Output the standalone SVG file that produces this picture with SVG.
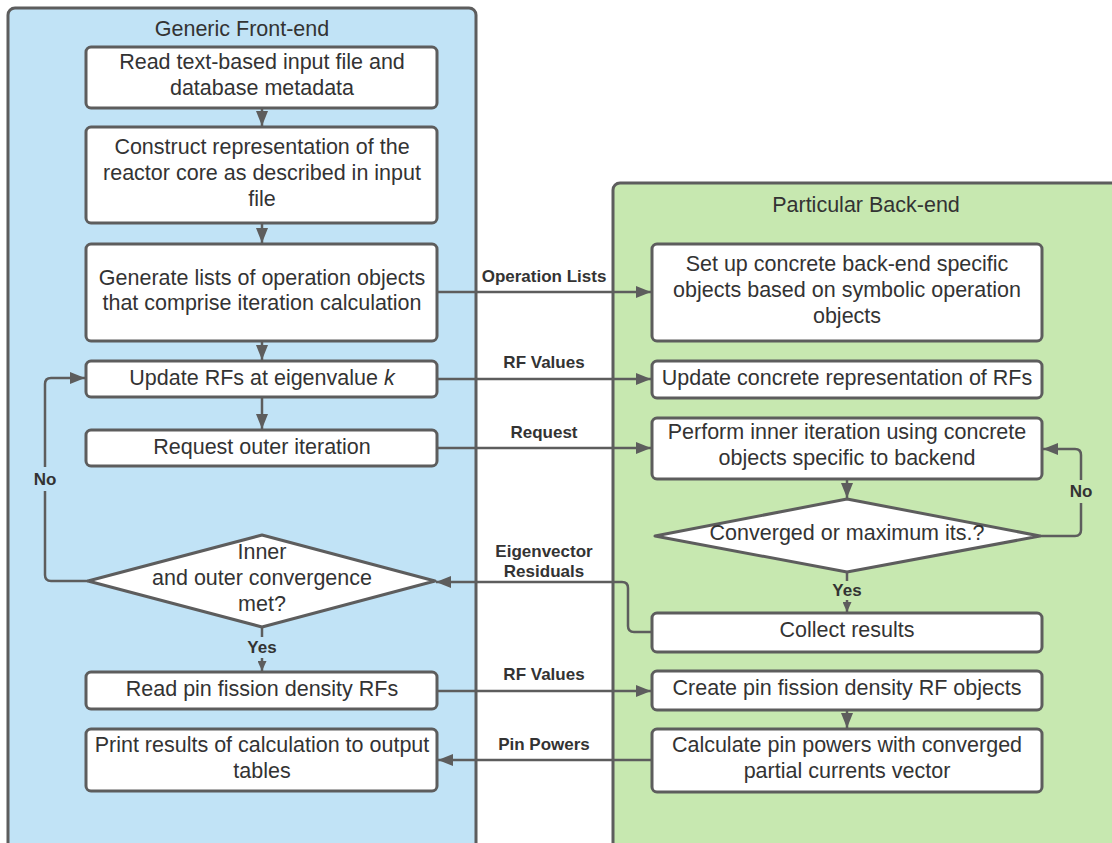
<svg xmlns="http://www.w3.org/2000/svg" width="1112" height="843" viewBox="0 0 1112 843">
  <style>
    .lane-blue { fill: #c1e3f6; stroke: #5d5d5d; stroke-width: 3; }
    .lane-green { fill: #c7e8b0; stroke: #5d5d5d; stroke-width: 3; }
    .box { fill: #ffffff; stroke: #5d5d5d; stroke-width: 3; }
    .t { font-family: "Liberation Sans", Arial, sans-serif; font-size: 21.5px; fill: #333333; text-anchor: middle; dominant-baseline: central; }
    .title { font-family: "Liberation Sans", Arial, sans-serif; font-size: 21.5px; fill: #333333; text-anchor: middle; dominant-baseline: central; }
    .lbl { font-family: "Liberation Sans", Arial, sans-serif; font-size: 17px; font-weight: bold; fill: #333333; text-anchor: middle; dominant-baseline: central; }
    .conn { fill: none; stroke: #5d5d5d; stroke-width: 2.5; }
  </style>
  <defs>
    <marker id="arrow" markerUnits="userSpaceOnUse" markerWidth="15" markerHeight="12" refX="15" refY="6" orient="auto">
      <path d="M0,0 L15,6 L0,12 z" fill="#5d5d5d"/>
    </marker>
    <marker id="arrow-sm" markerUnits="userSpaceOnUse" markerWidth="10" markerHeight="9" refX="10" refY="4.5" orient="auto">
      <path d="M0,0 L10,4.5 L0,9 z" fill="#5d5d5d"/>
    </marker>
  </defs>

  <!-- swimlanes -->
  <g id="lane-front-end">
    <rect class="lane-blue" x="8" y="8" width="468" height="850" rx="7"/>
    <text class="title" x="242" y="29">Generic Front-end</text>
  </g>
  <g id="lane-back-end">
    <rect class="lane-green" x="613" y="183" width="520" height="680" rx="7"/>
    <text class="title" x="866" y="205">Particular Back-end</text>
  </g>

  <!-- connectors -->
  <g id="connectors">
    <!-- front-end vertical flow -->
    <path class="conn" d="M262,108 V126" marker-end="url(#arrow)"/>
    <path class="conn" d="M262,223 V243" marker-end="url(#arrow)"/>
    <path class="conn" d="M262,341 V360" marker-end="url(#arrow)"/>
    <path class="conn" d="M262,397 V429" marker-end="url(#arrow)"/>
    <path class="conn" d="M262,627 V637"/>
    <path class="conn" d="M262,658 V671" marker-end="url(#arrow-sm)"/>
    <!-- No loop back to RF update -->
    <path class="conn" d="M88,581 H51 Q45,581 45,575 V491"/>
    <path class="conn" d="M45,467 V384 Q45,378 51,378 H85" marker-end="url(#arrow)"/>

    <!-- cross-lane messages -->
    <path class="conn" d="M437,292 H651" marker-end="url(#arrow)"/>
    <path class="conn" d="M437,379 H651" marker-end="url(#arrow)"/>
    <path class="conn" d="M437,448 H651" marker-end="url(#arrow)"/>
    <path class="conn" d="M652,632 H634 Q628,632 628,626 V588 Q628,582 622,582 H436" marker-end="url(#arrow)"/>
    <path class="conn" d="M437,691 H651" marker-end="url(#arrow)"/>
    <path class="conn" d="M652,760 H438" marker-end="url(#arrow)"/>

    <!-- back-end vertical flow -->
    <path class="conn" d="M847,479 V498" marker-end="url(#arrow)"/>
    <path class="conn" d="M847,572 V581"/>
    <path class="conn" d="M847,600 V612" marker-end="url(#arrow-sm)"/>
    <path class="conn" d="M847,710 V728" marker-end="url(#arrow)"/>
    <!-- No loop back to inner iteration -->
    <path class="conn" d="M1040,536 H1075 Q1081,536 1081,530 V503"/>
    <path class="conn" d="M1081,480 V455 Q1081,449 1075,449 H1043" marker-end="url(#arrow)"/>

    <!-- connector labels -->
    <text class="lbl" x="544" y="276">Operation Lists</text>
    <text class="lbl" x="544" y="362">RF Values</text>
    <text class="lbl" x="544" y="432">Request</text>
    <text class="lbl" x="544" y="551">Eigenvector</text>
    <text class="lbl" x="544" y="571">Residuals</text>
    <text class="lbl" x="544" y="674">RF Values</text>
    <text class="lbl" x="544" y="744">Pin Powers</text>
    <text class="lbl" x="45" y="479">No</text>
    <text class="lbl" x="262" y="647">Yes</text>
    <text class="lbl" x="1081" y="491">No</text>
    <text class="lbl" x="847" y="590">Yes</text>
  </g>

  <!-- front-end nodes -->
  <g id="read-input">
    <rect class="box" x="86" y="47" width="351" height="61" rx="5"/>
    <text class="t" x="262" y="62">Read text-based input file and</text>
    <text class="t" x="262" y="88">database metadata</text>
  </g>
  <g id="construct-core">
    <rect class="box" x="86" y="127" width="351" height="96" rx="5"/>
    <text class="t" x="262" y="147">Construct representation of the</text>
    <text class="t" x="262" y="173">reactor core as described in input</text>
    <text class="t" x="262" y="199">file</text>
  </g>
  <g id="generate-lists">
    <rect class="box" x="86" y="244" width="351" height="97" rx="5"/>
    <text class="t" x="262" y="278">Generate lists of operation objects</text>
    <text class="t" x="262" y="303">that comprise iteration calculation</text>
  </g>
  <g id="update-rfs">
    <rect class="box" x="86" y="361" width="351" height="36" rx="5"/>
    <text class="t" x="262" y="378">Update RFs at eigenvalue <tspan font-style="italic">k</tspan></text>
  </g>
  <g id="request-outer">
    <rect class="box" x="86" y="430" width="351" height="36" rx="5"/>
    <text class="t" x="262" y="447">Request outer iteration</text>
  </g>
  <g id="convergence-check">
    <polygon class="box" points="88,581 262,535 435,581 262,627" stroke-linejoin="round"/>
    <text class="t" x="262" y="552">Inner</text>
    <text class="t" x="262" y="578">and outer convergence</text>
    <text class="t" x="262" y="604">met?</text>
  </g>
  <g id="read-pin-fission">
    <rect class="box" x="86" y="672" width="351" height="37" rx="5"/>
    <text class="t" x="262" y="689">Read pin fission density RFs</text>
  </g>
  <g id="print-results">
    <rect class="box" x="86" y="729" width="351" height="62" rx="5"/>
    <text class="t" x="262" y="745">Print results of calculation to output</text>
    <text class="t" x="262" y="771">tables</text>
  </g>

  <!-- back-end nodes -->
  <g id="setup-objects">
    <rect class="box" x="652" y="244" width="390" height="97" rx="5"/>
    <text class="t" x="847" y="264">Set up concrete back-end specific</text>
    <text class="t" x="847" y="290">objects based on symbolic operation</text>
    <text class="t" x="847" y="316">objects</text>
  </g>
  <g id="update-concrete">
    <rect class="box" x="652" y="361" width="390" height="37" rx="5"/>
    <text class="t" x="847" y="378">Update concrete representation of RFs</text>
  </g>
  <g id="inner-iteration">
    <rect class="box" x="652" y="418" width="390" height="61" rx="5"/>
    <text class="t" x="847" y="432">Perform inner iteration using concrete</text>
    <text class="t" x="847" y="458">objects specific to backend</text>
  </g>
  <g id="inner-check">
    <polygon class="box" points="655,536 847,499 1040,536 847,572" stroke-linejoin="round"/>
    <text class="t" x="847" y="533">Converged or maximum its.?</text>
  </g>
  <g id="collect-results">
    <rect class="box" x="652" y="613" width="390" height="39" rx="5"/>
    <text class="t" x="847" y="630">Collect results</text>
  </g>
  <g id="create-rf-objects">
    <rect class="box" x="652" y="671" width="390" height="39" rx="5"/>
    <text class="t" x="847" y="688">Create pin fission density RF objects</text>
  </g>
  <g id="calc-pin-powers">
    <rect class="box" x="652" y="729" width="390" height="63" rx="5"/>
    <text class="t" x="847" y="745">Calculate pin powers with converged</text>
    <text class="t" x="847" y="771">partial currents vector</text>
  </g>
</svg>
